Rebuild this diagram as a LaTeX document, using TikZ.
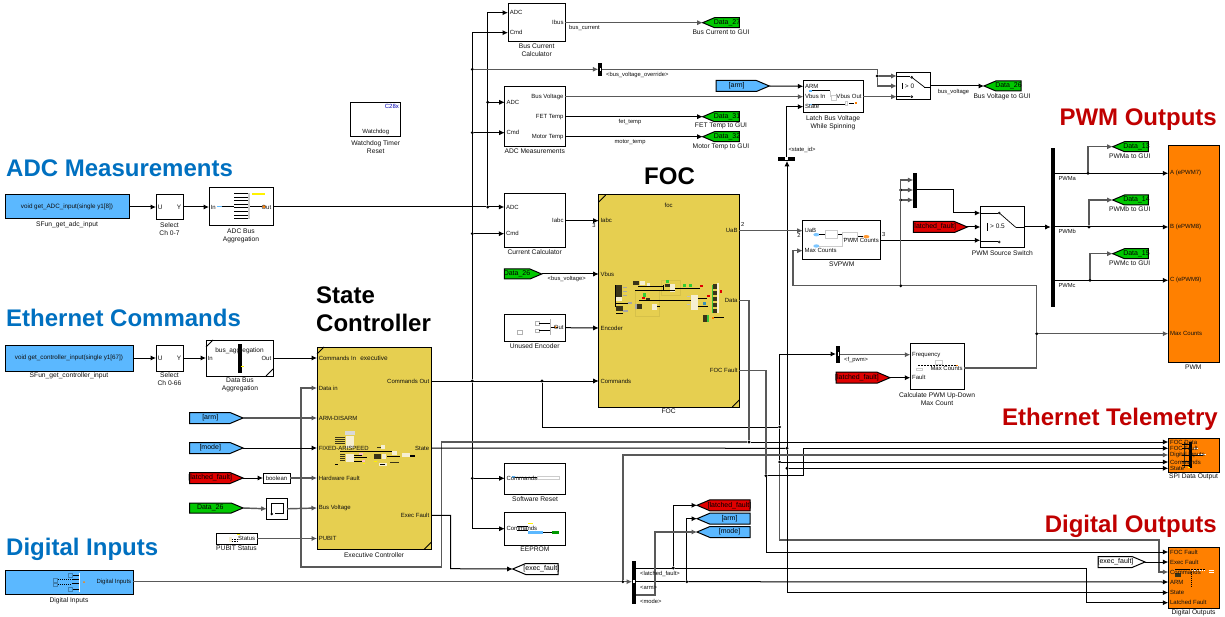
\documentclass[tikz,border=0pt]{standalone}
\usepackage{fontspec}
\setmainfont{Liberation Sans}
\usetikzlibrary{arrows.meta,shapes.symbols}
\definecolor{foccol}{HTML}{E6CF50}
\definecolor{sblue}{HTML}{5BB8FF}
\definecolor{sgreen}{HTML}{00C800}
\definecolor{sred}{HTML}{E00000}
\definecolor{sorange}{HTML}{FF8000}
\definecolor{tblue}{HTML}{0070C0}
\definecolor{tred}{HTML}{C00000}
\definecolor{dk}{HTML}{3A3418}
\definecolor{cream}{HTML}{F6EFD2}
\definecolor{txt}{HTML}{101010}
\tikzset{
 block/.style={draw=black,line width=1,fill=white,inner sep=0,outer sep=0},
 port/.style={font=\fontsize{6}{7}\selectfont,text=txt,inner sep=1.8pt,outer sep=0},
 capn/.style={font=\fontsize{6.7}{8}\selectfont,text=txt,align=center,inner sep=0},
 wlab/.style={font=\fontsize{5.8}{7}\selectfont,text=txt,inner sep=0},
 ttl/.style={font=\fontsize{24}{27}\selectfont\bfseries,inner sep=0,anchor=base west},
 ttr/.style={font=\fontsize{24}{27}\selectfont\bfseries,inner sep=0,anchor=base east,text=tred},
 w/.style={draw=black,line width=1},
 g/.style={draw=black!65,line width=1.45},
 ar/.style={-{Latex[length=5.5pt,width=5.2pt]}},
 jn/.style={circle,fill=black,inner sep=0,minimum size=3.2pt,outer sep=0},
 bar/.style={fill=black,draw=none,inner sep=0,outer sep=0},
 sgn/.style={signal,signal from=nowhere,signal pointer angle=46,draw=black,line width=1,inner sep=0,outer sep=0},
 sb/.style={fill=sblue,minimum height=11pt},
 sg/.style={fill=sgreen,minimum height=10pt},
 sr/.style={fill=sred,minimum height=11pt},
 sw/.style={fill=white,minimum height=11pt},
 stx/.style={font=\fontsize{7}{8}\selectfont,text=black,inner sep=0},
 zm/.style 2 args={shift={(#1,#2)},x=.33333pt,y=-.33333pt},
 tl/.style={draw=black,line width=.7},
 gl/.style={draw=black!20,line width=.5},
}
% block by its corners
\newcommand\blk[6][]{\node[block,#1,minimum width={(#5-#3)*1pt},minimum height={(#6-#4)*1pt}] (#2) at ({(#3+#5)/2},{(#4+#6)/2}) {};}
\newcommand\pL[4]{\node[port,anchor=west] (#2) at (#1.west|-0,#3) {#4};}
\newcommand\pR[4]{\node[port,anchor=east] (#2) at (#1.east|-0,#3) {#4};}
\newcommand\capt[4]{\node[capn,anchor=north] (#1-cap) at (#2,{#3-3.6}) {#4};}
\newcommand\sigR[6][sb]{\node[sgn,#1,signal to=east,anchor=west,minimum width={(#4-#3)*1pt}] (#2) at (#3,#5) {};\node[stx] (#2-t) at ({(#3+#4-12)/2},#5) {#6};}
\newcommand\sigL[6][sb]{\node[sgn,#1,signal to=west,anchor=east,minimum width={(#4-#3)*1pt}] (#2) at (#4,#5) {};\node[stx] (#2-t) at ({(#3+#4+12)/2},#5) {#6};}
\newcommand\jun[3]{\node[jn] (#1) at (#2,#3) {};}
\newcommand\rct[5]{\fill[#1] (#2,#3) rectangle (#4,#5);}
\newcommand\lnn[4]{\draw[tl] (#1,#2)--(#3,#4);}
\newcommand\cornr[1]{\draw[black,line width=.8] (#1.north west)+(0,7)--+(7,0);\draw[black,line width=.8] (#1.south east)+(-7,0)--+(0,-7);}
\begin{document}
\begin{tikzpicture}[x=1pt,y=-1pt]
\useasboundingbox (0,0) rectangle (1225,617);
% titles
\node[ttl,text=tblue] (t1) at (6,176.7) {ADC Measurements};
\node[ttl,text=tblue] (t2) at (6,326.7) {Ethernet Commands};
\node[ttl,text=tblue] (t3) at (6,555) {Digital Inputs};
\node[ttl] (t4) at (316,304) {State};
\node[ttl] (t5) at (316,331) {Controller};
\node[ttl] (t6) at (644,184.3) {FOC};
\node[ttr] (t7) at (1217,126) {PWM Outputs};
\node[ttr] (t8) at (1218,425) {Ethernet Telemetry};
\node[ttr] (t9) at (1217,532.3) {Digital Outputs};
% blocks
\blk[fill=sblue]{sfa}{5}{195}{129}{219}
\blk{sel1}{156}{194.5}{183}{220}
\blk{agga}{209}{188}{273}{226}
\blk[fill=sblue]{sfc}{5}{345}{133}{371}
\blk{sel2}{156}{345}{183}{371}
\blk{aggd}{206}{340}{273}{376}
\blk[fill=foccol]{ex}{317}{347}{431}{549.5}
\blk{wd}{350.7}{102.3}{400.7}{136.7}
\blk{bool}{263}{473}{290}{483}
\blk{mem}{266.7}{498.6}{287}{519}
\blk{pub}{216}{533}{257}{544}
\blk[fill=sblue]{di}{5}{570.7}{133}{594.7}
\blk{bc}{508}{4}{565.3}{41.7}
\blk{ad}{504.7}{86.7}{565.3}{146.7}
\blk{cc}{504.3}{193.7}{565.3}{247.3}
\blk{ue}{504.3}{314.3}{565.3}{341.3}
\blk[fill=foccol]{foc}{598.7}{195}{739.3}{407}
\blk{sr}{504.7}{463}{565.7}{494.3}
\blk{ee}{504.7}{512.7}{565.7}{545}
\blk{la}{803.3}{80.3}{863.3}{112.7}
\blk{swa}{896.7}{72.7}{930.7}{100}
\blk{sv}{802.7}{220.7}{880.7}{260}
\blk{swb}{980.3}{206.3}{1024.3}{248}
\blk{cal}{910.3}{343}{964.3}{389.3}
\blk[fill=sorange]{pwm}{1168.3}{145.3}{1219}{362.7}
\blk[fill=sorange]{spi}{1168.3}{438}{1219}{472}
\blk[fill=sorange]{dout}{1168.3}{547}{1219}{608.7}
\cornr{aggd}\cornr{ex}\cornr{foc}
% selector / mux bars
\blk[bar]{bvo}{598.3}{63.3}{602.3}{76}
\blk[bar]{sid}{777.7}{156.7}{795}{160.7}
\blk[bar]{mux}{913.3}{172.7}{917.3}{208.3}
\blk[bar]{dem}{1050.7}{147.7}{1055}{306.7}
\blk[bar]{fps}{836}{346}{840.3}{362.7}
\blk[bar]{bs}{632}{560.7}{636}{604}
\rct{white}{599.5}{68}{601}{71}
\rct{white}{837.5}{352}{839}{356}
\rct{white}{633}{580}{635}{583}
\rct{white}{785}{157.5}{788}{160}
% thumbnail details
\begin{scope}[zm={0}{150}]
 \foreach \yy in {131,142,152,163,173,184,195,205}{\lnn{703}{\yy}{745}{\yy}}
 \rct{black!20}{745}{128}{750}{208}
 \rct{yellow}{756}{130}{795}{136}
 \rct{sblue}{650}{167}{665}{172}
 \lnn{665}{170}{703}{170}\lnn{750}{170}{787}{170}
 \fill[orange] (792,170) circle (5);
 \rct{black}{714}{582}{726}{668}
 \rct{yellow}{724}{648}{732}{651}
\end{scope}
\begin{scope}[zm={0}{520}]
 \foreach \yy in {165,178,190,208}{\lnn{215}{\yy}{238}{\yy}}
 \draw[sblue!70!black,line width=.3] (203,160) rectangle (215,170) (158,175) rectangle (172,185) (158,189) rectangle (172,198) (203,202) rectangle (215,212);
 \draw[black,dash pattern=on 1pt off 1pt,line width=.6] (175,178)--(215,178) (175,192)--(215,192);
 \draw[white,line width=.5] (238,158)--(238,215);
 \fill[orange] (252,186) circle (3);
\end{scope}
\begin{scope}[zm={180}{340}]
 % executive thumbnail
 \rct{black!15}{495}{272}{525}{285}
 \rct{cream}{497}{288}{522}{325}
 \rct{cream}{497}{342}{522}{365}
 \rct{cream}{603}{315}{615}{328}
 \rct{cream}{605}{343}{618}{358}
 \rct{cream}{636}{333}{650}{345}
 \rct{cream}{665}{340}{690}{352}
 \rct{cream}{598}{370}{620}{377}
 \foreach \yy in {291,297,303,309}{\rct{dk}{466}{\yy}{495}{\yy+3}}
 \foreach \yy in {342,348,354,360}{\rct{dk}{480}{\yy}{495}{\yy+3}}
 \rct{black}{480}{332}{636}{335}
 \rct{dk}{583}{342}{603}{356}
 \rct{dk}{590}{320}{603}{324}
 \rct{black}{522}{345}{545}{347}\rct{black}{522}{352}{560}{354}\rct{black}{522}{362}{550}{364}
 \rct{black}{622}{348}{660}{351}\rct{dk}{630}{366}{658}{369}\rct{black}{690}{345}{705}{350}
 \rct{black}{466}{372}{474}{374}
 \rct{pink}{538}{340}{548}{345}\rct{pink}{545}{360}{556}{365}
 \rct{yellow}{550}{368}{556}{371}\rct{yellow}{582}{363}{590}{366}
 \rct{black}{600}{372}{616}{374}
 % PUBIT
 \rct{cream}{147}{590}{155}{606}
 \draw[black,dash pattern=on 1.5pt off 1pt,line width=.6] (155,597)--(172,597) (155,603)--(172,603);
 \rct{yellow}{170}{582}{180}{585}
 % memory icon
 \draw[black,line width=.9] (275,518)--(275,490)--(310,490)--(310,521)--(285,521);
 \fill[black] (275,522) circle (4);
 % software reset
 \draw[gl] (1072,408) rectangle (1138,418);
 \rct{sblue}{995}{409}{1005}{413}
 \lnn{1005}{413}{1072}{413}
 % eeprom
 \rct{yellow}{1045}{548}{1058}{552}
 \lnn{1010}{560}{1045}{560}\lnn{1010}{572}{1045}{572}
 \rct{sblue}{1045}{573}{1090}{581}
 \lnn{1090}{578}{1115}{578}
 \rct{green!60!black}{1115}{574}{1137}{581}
\end{scope}
\begin{scope}[zm={600}{270}]
 % FOC thumbnail
 \draw[foccol!93!black,line width=.4] (105,60) rectangle (178,140) (185,30) rectangle (240,75);
 \rct{dk}{45}{45}{67}{80}\rct{dk}{47}{108}{68}{122}\rct{dk}{100}{33}{118}{45}\rct{dk}{195}{42}{210}{52}
 \rct{dk}{112}{102}{127}{118}\rct{dk}{138}{85}{150}{92}
 \rct{cream}{47}{82}{67}{94}\rct{cream}{120}{33}{135}{45}\rct{cream}{210}{42}{225}{65}\rct{cream}{155}{102}{170}{120}
 \rct{cream}{273}{75}{295}{120}\rct{cream}{140}{40}{150}{52}
 \rct{black}{105}{59}{225}{62}\rct{black}{118}{90}{273}{93}\rct{black}{115}{47}{190}{50}\rct{black}{190}{45}{193}{62}
 \rct{black}{44}{45}{47}{110}\rct{black}{45}{100}{85}{103}\rct{black}{48}{130}{68}{133}\rct{black}{225}{53}{300}{56}
 \rct{black}{170}{108}{180}{111}\rct{black}{295}{85}{322}{88}\rct{black}{295}{108}{325}{111}
 \rct{black!35}{70}{50}{80}{54}\rct{black!35}{70}{62}{80}{66}\rct{black!35}{70}{74}{80}{78}\rct{black!35}{85}{97}{95}{101}\rct{black!35}{70}{120}{85}{125}
 \rct{black!35}{105}{102}{112}{118}\rct{black!25}{260}{78}{270}{82}\rct{black!25}{260}{102}{270}{106}
 \rct{green!60!gray}{198}{30}{206}{38}\rct{green!60!gray}{128}{68}{137}{80}\rct{green!60!gray}{250}{42}{258}{50}\rct{green!60!gray}{268}{42}{276}{50}
 \rct{dk}{340}{42}{352}{58}\rct{dk}{340}{62}{352}{76}\rct{dk}{340}{80}{352}{94}\rct{dk}{340}{98}{352}{112}\rct{dk}{340}{116}{352}{130}
 \rct{cream}{352}{40}{357}{130}\rct{green!55!gray}{335}{45}{340}{130}
 \rct{dk}{310}{135}{322}{155}\rct{green!55!gray}{322}{135}{326}{155}
 \rct{sred}{360}{60}{366}{70}\rct{sred}{320}{75}{330}{82}\rct{sred}{300}{45}{309}{51}\rct{sred}{125}{82}{135}{88}
 \rct{cyan!70!black}{308}{95}{318}{105}
 \rct{orange}{336}{140}{342}{148}\rct{black}{342}{141}{372}{144}
\end{scope}
\begin{scope}[zm={490}{180}]
 \draw[black!30,line width=.5] (135,425) rectangle (147,435) (135,447) rectangle (147,457) (82,452) rectangle (97,462);
 \lnn{147}{430}{180}{430}\lnn{147}{452}{180}{452}
 \rct{black!30}{180}{418}{184}{465}
 \lnn{184}{441}{205}{441}
 \fill[orange] (197,441) circle (3);
\end{scope}
\begin{scope}[zm={760}{0}]
 \lnn{150}{272}{210}{272}\lnn{150}{313}{255}{313}\lnn{268}{310}{282}{310}
 \draw[gl] (210,272)--(210,290) (215,285) rectangle (230,300) (255,305) rectangle (262,315);
 \rct{sblue}{148}{271}{156}{275}\rct{sblue}{148}{311}{156}{315}
 \rct{orange}{284}{307}{290}{311}
\end{scope}
\begin{scope}[zm={780}{140}]
 \fill[sblue!80] (109,284) ellipse (9 and 5);\fill[sblue!80] (109,318) ellipse (9 and 5);
 \lnn{118}{284}{135}{284}\lnn{172}{284}{187}{284}\lnn{233}{290}{250}{290}
 \draw[gl] (135,272) rectangle (172,296) (187,277) rectangle (233,296) (118,318)--(187,318)--(187,296);
 \fill[orange!80] (259,290) ellipse (9 and 5);
 % calc thumbnail
 \draw[gl] (465,660) rectangle (487,672) (408,686) rectangle (428,692);
 \draw[black,dash pattern=on 2pt off 1pt,line width=.6] (415,677)--(530,677);
 \rct{orange}{528}{675}{534}{679}
\end{scope}
\begin{scope}[zm={1060}{420}]
 % SPI thumbnail
 \rct{black}{387}{65}{395}{145}\rct{dk}{372}{65}{376}{145}
 \foreach \yy in {72,85,105,125,137}{\lnn{365}{\yy}{387}{\yy}}
 \lnn{395}{105}{430}{105}
 \rct{white}{415}{103}{438}{106}\rct{yellow}{384}{141}{390}{144}\rct{white}{402}{85}{415}{87}
 % DO thumbnail
 \rct{black}{345}{447}{385}{451}\rct{dk}{345}{460}{362}{470}
 \draw[black,dash pattern=on 2pt off 1pt,line width=.7] (385,449)--(435,449);
 \draw[white,dash pattern=on 1.5pt off 1pt,line width=.7] (395,451)--(435,451);
 \draw[black,dash pattern=on 1pt off 1pt,line width=.7] (395,455)--(395,500);
 \rct{white}{447}{450}{462}{453}\rct{white}{447}{456}{462}{459}
\end{scope}
% SFun text and block ports
\node[port,font=\fontsize{6.3}{7}\selectfont] (sfa-t) at (sfa) {void get\_ADC\_input(single y1[8])};
\node[port,font=\fontsize{6.3}{7}\selectfont] (sfc-t) at (sfc) {void get\_controller\_input(single y1[67])};
\pL{sel1}{s1u}{207}{\fontsize{6.5}{7}\selectfont U}\pR{sel1}{s1y}{207}{\fontsize{6.5}{7}\selectfont Y}
\pL{sel2}{s2u}{358}{\fontsize{6.5}{7}\selectfont U}\pR{sel2}{s2y}{358}{\fontsize{6.5}{7}\selectfont Y}
\pL{agga}{aga-in}{207}{In}\pR{agga}{aga-out}{207}{Out}
\pL{aggd}{agd-in}{358}{In}\pR{aggd}{agd-out}{358}{Out}
\node[port,font=\fontsize{6.5}{7}\selectfont] (agd-t) at (239.5,351) {bus\_aggregation};
\pL{ex}{ex-ci}{358}{Commands In}\pL{ex}{ex-di}{388}{Data in}\pL{ex}{ex-arm}{418}{ARM-DISARM}
\pL{ex}{ex-fix}{448}{FIXED-ARISPEED}\pL{ex}{ex-hf}{478}{Hardware Fault}\pL{ex}{ex-bv}{508}{Bus Voltage}\pL{ex}{ex-pub}{538}{PUBIT}
\pR{ex}{ex-co}{381}{Commands Out}\pR{ex}{ex-st}{448}{State}\pR{ex}{ex-ef}{515.3}{Exec Fault}
\node[port,font=\fontsize{6.5}{7}\selectfont] (ex-n) at (374,358) {executive};
\node[port,text=blue!70!black,anchor=north east] (wd-c) at (wd.north east) {C28x};
\node[port,anchor=south] (wd-t) at (wd.south) {Watchdog};
\node[port,anchor=center,font=\fontsize{6}{7}\selectfont] (bool-t) at (bool) {boolean};
\pR{pub}{pub-o}{538.5}{Status}
\pR{di}{di-o}{581.7}{Digital Inputs}
\pL{bc}{bc-adc}{12.7}{ADC}\pL{bc}{bc-cmd}{32.7}{Cmd}\pR{bc}{bc-ib}{22.7}{Ibus}
\pL{ad}{ad-adc}{102.3}{ADC}\pL{ad}{ad-cmd}{132.7}{Cmd}\pR{ad}{ad-bv}{96.7}{Bus Voltage}\pR{ad}{ad-ft}{116.7}{FET Temp}\pR{ad}{ad-mt}{136.7}{Motor Temp}
\pL{cc}{cc-adc}{207}{ADC}\pL{cc}{cc-cmd}{233.7}{Cmd}\pR{cc}{cc-ia}{220.7}{Iabc}
\pR{ue}{ue-o}{327.7}{Out}
\pL{foc}{f-ia}{220.7}{Iabc}\pL{foc}{f-vb}{274}{Vbus}\pL{foc}{f-en}{328}{Encoder}\pL{foc}{f-cm}{381}{Commands}
\pR{foc}{f-ua}{230.7}{UaB}\pR{foc}{f-da}{300.7}{Data}\pR{foc}{f-fa}{370.7}{FOC Fault}
\node[port] (f-n) at (668.7,205.7) {foc};
\pL{sr}{sr-c}{478.3}{Commands}\pL{ee}{ee-c}{528.7}{Commands}
\pL{la}{la-ar}{86.3}{ARM}\pL{la}{la-vi}{96.7}{Vbus In}\pL{la}{la-st}{106.7}{State}\pR{la}{la-vo}{96.7}{Vbus Out}
\pL{sv}{sv-ua}{230}{UaB}\pL{sv}{sv-mc}{250.7}{Max Counts}\pR{sv}{sv-pc}{240.3}{PWM Counts}
\pL{cal}{cal-f}{354.7}{Frequency}\pL{cal}{cal-fa}{377.7}{Fault}\pR{cal}{cal-mc}{368}{Max Counts}
\pL{pwm}{pw-a}{173.3}{A (ePWM7)}\pL{pwm}{pw-b}{227}{B (ePWM8)}\pL{pwm}{pw-c}{280.3}{C (ePWM9)}\pL{pwm}{pw-m}{333.7}{Max Counts}
\pL{spi}{sp-d}{442}{FOC Data}\pL{spi}{sp-f}{448.3}{FOC Fault}\pL{spi}{sp-i}{455}{Digital Inputs}\pL{spi}{sp-c}{462}{Commands}\pL{spi}{sp-s}{468.3}{State}
\pL{dout}{do-f}{552}{FOC Fault}\pL{dout}{do-e}{562}{Exec Fault}\pL{dout}{do-c}{572}{Commands}\pL{dout}{do-a}{582}{ARM}\pL{dout}{do-s}{592.6}{State}\pL{dout}{do-l}{602.7}{Latched Fault}
% switches
\lnn{896.7}{76}{910}{76}\lnn{896.7}{96.7}{910}{96.7}\lnn{911.7}{77.3}{924.3}{87}\lnn{924.3}{87}{930.7}{87}
\draw[black,line width=.6] (911.7,77.3) circle (1);\draw[black,line width=.6] (911.7,96.7) circle (1);
\draw[black,line width=.8] (902,83)--(902,89.5);
\node[port,inner sep=0,font=\fontsize{6.5}{7}\selectfont] (swa-t) at (909.5,86.7) {> 0};
\lnn{980.3}{213}{998}{213}\lnn{980.3}{241}{998}{241}\lnn{999.3}{213}{1015.7}{227.3}\lnn{1015.7}{227.3}{1024.3}{227.3}
\draw[black,line width=.6] (999.3,213) circle (1);\draw[black,line width=.6] (999.3,242) circle (1);
\draw[black,line width=.8] (987.3,223)--(987.3,231.5);
\node[port,inner sep=0,font=\fontsize{6.5}{7}\selectfont] (swb-t) at (997.5,226.7) {> 0.5};
% gotos / froms
\sigR{garm}{189.5}{243}{418}{[arm]}
\sigR{gmode}{189.5}{243}{448}{[mode]}
\sigR[sr]{glat}{189.5}{243}{478}{[latched\_fault]}
\sigR[sg]{gd26}{189.5}{243}{508}{Data\_26}
\sigR[sg]{gd26b}{504.3}{541.7}{274}{Data\_26}
\sigR{garm2}{716}{769.3}{86}{[arm]}
\sigR[sr]{glat2}{913.3}{967.3}{227}{[latched\_fault]}
\sigR[sr]{glat3}{836}{890}{377.7}{[latched\_fault]}
\sigR[sw]{gex2}{1098}{1145}{562}{[exec\_fault]}
\sigL[sw]{gex}{512.7}{558}{569}{[exec\_fault]}
\sigL[sg]{d27}{702.7}{739.3}{22.7}{Data\_27}
\sigL[sg]{d31}{702.7}{739.3}{116.7}{Data\_31}
\sigL[sg]{d32}{702.7}{739.3}{136.7}{Data\_32}
\sigL[sg]{d26}{984}{1021}{86}{Data\_26}
\sigL[sg]{d13}{1112.7}{1148.3}{146.7}{Data\_13}
\sigL[sg]{d14}{1112.7}{1148.3}{200}{Data\_14}
\sigL[sg]{d15}{1112.7}{1148.3}{253.7}{Data\_15}
\sigL[sr]{lat4}{697}{750}{505.3}{[latched\_fault]}
\sigL{arm4}{697}{750}{518.7}{[arm]}
\sigL{mod4}{697}{750}{532}{[mode]}
% junctions
\jun{jA1}{487.7}{102.3}\jun{jA2}{487.7}{207}
\jun{jC0}{472.3}{381}\jun{jC1}{472.3}{69.3}\jun{jC2}{472.3}{132.7}\jun{jC3}{472.3}{233.7}\jun{jC4}{472.3}{478.3}
\jun{jC5}{542}{381}\jun{jD1}{779.6}{427}\jun{jD2}{779.6}{462}
\jun{jF}{749}{442}\jun{jE}{787}{448.3}\jun{jE2}{787}{468.3}\jun{jG}{766}{475.7}
\jun{jH}{622.8}{581.7}\jun{jL1}{673.2}{568}\jun{jL2}{686.8}{581.7}
\jun{jS}{877.3}{76}\jun{jV}{900.7}{285.7}\jun{jW1}{900.7}{190}\jun{jW2}{900.7}{200}\jun{jM}{1036.7}{333.7}
\jun{jP1}{1088}{173.3}\jun{jP2}{1089}{227}\jun{jP3}{1090}{280.3}
% connectors
\draw[w,ar] (sfa.east|-0,207)--(s1u.west);
\draw[w,ar] (s1y.east)--(aga-in.west);
\draw[w,ar] (sfc.east|-0,358)--(s2u.west);
\draw[w,ar] (s2y.east)--(agd-in.west);
\draw[w,ar] (agd-out.east)--(ex-ci.west);
\draw[w] (aga-out.east)--(jA2);
\draw[w,ar] (jA2)--(cc-adc.west);
\draw[w,ar] (jA2)|-(bc-adc.west);
\draw[w,ar] (jA1)--(ad-adc.west);
\draw[w,ar] (jC0)|-(bc-cmd.west);
\draw[w,ar] (jC0)|-(ee-c.west);
\draw[w,ar] (jC2)--(ad-cmd.west);
\draw[w,ar] (jC3)--(cc-cmd.west);
\draw[w,ar] (jC4)--(sr-c.west);
\draw[g,ar] (jC1)--(bvo.west|-jC1);
\draw[w,ar] (ex-co.east)--(f-cm.west);
\draw[w] (jC5)|-(jD1);
\draw[w,ar] (jD1)|-(fps.west|-0,354);
\draw[w] (jD1)--(jD2);
\draw[w,ar] (jD2)--(sp-c.west);
\draw[g,ar] (jD2)|-(1159,540)--(1159,572)--(do-c.west);
\draw[g] (f-da.east)-|(jF);
\draw[w,ar] (jF)--(sp-d.west);
\draw[g,ar] (jF)--(441.6,442)--(441.6,567)--(301,567)|-(ex-di.west);
\draw[w] (ex-st.east)--(jE);
\draw[w,ar] (jE2)--(sp-s.west);
\draw[w,ar] (jE)--(787,160.9);
\draw[w,ar] (jE)|-(do-s.west);
\draw[w,ar] (sid.north)|-(la-st.west);
\draw[g] (f-fa.east)-|(jG);
\draw[w,ar] (jG)|-(do-f.west);
\draw[w,ar] (jG)--(803,475.7)|-(sp-f.west);
\draw[w,ar] (ex-ef.east)-|(450.7,568.7)--(gex.west);
\draw[g] (di-o.east)--(jH);
\draw[g,ar] (jH)--(bs.west|-jH);
\draw[g,ar] (jH)|-(sp-i.west);
\draw[w] (bs.east|-jL1)--(jL1);
\draw[w,ar] (jL1)|-(lat4.west);
\draw[w,ar] (jL1)-|(1086,590)|-(do-l.west);
\draw[w] (bs.east|-jL2)--(jL2);
\draw[w,ar] (jL2)|-(arm4.west);
\draw[w,ar] (jL2)--(do-a.west);
\draw[g,ar] (bs.east|-0,595)-|(654.8,560)|-(mod4.west);
\draw[g,ar] (garm.east)--(ex-arm.west);
\draw[w,ar] (gmode.east)--(ex-fix.west);
\draw[w,ar] (glat.east)--(bool.west);
\draw[g,ar] (bool.east)--(ex-hf.west);
\draw[g,ar] (gd26.east)--(mem.west);
\draw[g,ar] (mem.east)--(ex-bv.west);
\draw[g,ar] (pub-o.east)--(ex-pub.west|-pub-o);
\draw[g,ar] (bc-ib.east)--(d27.west);
\draw[g,ar] (ad-bv.east)--(la-vi.west);
\draw[w,ar] (ad-ft.east)--(d31.west);
\draw[w,ar] (ad-mt.east)--(d32.west);
\draw[w,ar] (cc-ia.east)--(f-ia.west);
\draw[w,ar] (gd26b.east)--(f-vb.west);
\draw[w,ar] (ue-o.east)--(f-en.west);
\draw[w,ar] (garm2.east)--(la-ar.west);
\draw[g] (bvo.east|-jC1)-|(jS);
\draw[g,ar] (jS)--(swa.west|-jS);
\draw[g,ar] (jS)|-(swa.west|-d26);
\draw[g,ar] (la-vo.east)--(swa.west|-la-vo);
\draw[w,ar] (swa.east|-d26)--(d26.west);
\draw[g,ar] (f-ua.east)--(sv-ua.west|-f-ua);
\draw[w,ar] (sv-pc.east)--(swb.west|-sv-pc);
\draw[w,ar] (glat2.east)--(swb.west|-glat2);
\draw[w,ar] (mux.east|-0,190)--(953,190)|-(swb.west|-0,213);
\draw[w,ar] (swb.east|-glat2)--(dem.west|-glat2);
\draw[g,ar] (jW1)--(mux.west|-jW1);
\draw[g,ar] (jW2)--(mux.west|-jW2);
\draw[g,ar] (jV)|-(mux.west|-0,180);
\draw[g] (cal-mc.east)-|(jM);
\draw[g,ar] (jM)--(pw-m.west);
\draw[g] (jM)|-(jV);
\draw[g,ar] (jV)-|(793,268)|-(sv-mc.west);
\draw[g,ar] (fps.east|-0,354.7)--(cal-f.west);
\draw[w,ar] (glat3.east)--(cal-fa.west);
\draw[w,ar] (gex2.east)--(do-e.west);
\draw[w,ar] (dem.east|-jP1)--(pw-a.west);
\draw[w,ar] (dem.east|-jP2)--(pw-b.west);
\draw[w,ar] (dem.east|-jP3)--(pw-c.west);
\draw[g,ar] (jP1)|-(d13.west);
\draw[g,ar] (jP2)|-(d14.west);
\draw[g,ar] (jP3)|-(d15.west);
% wire labels
\node[wlab,anchor=west] (l1) at (569,28) {bus\_current};
\node[wlab] (l2) at (630,122) {fet\_temp};
\node[wlab] (l3) at (630,142) {motor\_temp};
\node[wlab,anchor=west] (l4) at (606,75) {<bus\_voltage\_override>};
\node[wlab,anchor=west] (l5) at (788.3,150) {<state\_id>};
\node[wlab,anchor=west] (l6) at (937.7,91.7) {bus\_voltage};
\node[wlab] (l7) at (566.7,279) {<bus\_voltage>};
\node[wlab,anchor=west] (l8) at (844,360) {<f\_pwm>};
\node[wlab,anchor=west] (l9) at (1058.3,178.7) {PWMa};
\node[wlab,anchor=west] (l10) at (1058.3,231.7) {PWMb};
\node[wlab,anchor=west] (l11) at (1058.3,285.7) {PWMc};
\node[wlab,anchor=west] (l12) at (640,574) {<latched\_fault>};
\node[wlab,anchor=west] (l13) at (640,588) {<arm>};
\node[wlab,anchor=west] (l14) at (640,601) {<mode>};
\node[wlab] (l15) at (594,226) {3};
\node[wlab] (l16) at (742.7,224.7) {2};
\node[wlab] (l17) at (799,235.7) {2};
\node[wlab] (l18) at (883.7,234.7) {3};
% captions
\capt{sfa}{67}{225}{SFun\_get\_adc\_input}
\capt{sel1}{169.5}{226}{Select\\Ch 0-7}
\capt{agga}{241}{232}{ADC Bus\\Aggregation}
\capt{sfc}{69}{376}{SFun\_get\_controller\_input}
\capt{sel2}{169.5}{376}{Select\\Ch 0-66}
\capt{aggd}{240}{381.5}{Data Bus\\Aggregation}
\capt{wd}{375.7}{144}{Watchdog Timer\\Reset}
\capt{pub}{236.5}{549.5}{PUBIT Status}
\capt{ex}{374}{556}{Executive Controller}
\capt{di}{69}{600.7}{Digital Inputs}
\capt{bc}{536.7}{47.7}{Bus Current\\Calculator}
\capt{ad}{534.7}{152.7}{ADC Measurements}
\capt{cc}{534.7}{252.7}{Current Calculator}
\capt{ue}{534.7}{346.7}{Unused Encoder}
\capt{foc}{668.7}{412.7}{FOC}
\capt{sr}{535}{499.7}{Software Reset}
\capt{ee}{535}{550.7}{EEPROM}
\capt{d27}{721}{33.7}{Bus Current to GUI}
\capt{d31}{721}{126.7}{FET Temp to GUI}
\capt{d32}{721}{147.7}{Motor Temp to GUI}
\capt{la}{833}{118.7}{Latch Bus Voltage\\While Spinning}
\capt{d26}{1002}{96.7}{Bus Voltage to GUI}
\capt{sv}{841.7}{265.7}{SVPWM}
\capt{swb}{1002.3}{253.7}{PWM Source Switch}
\capt{cal}{937}{395.7}{Calculate PWM Up-Down\\Max Count}
\capt{d13}{1129.7}{157.3}{PWMa to GUI}
\capt{d14}{1129.7}{210.3}{PWMb to GUI}
\capt{d15}{1129.7}{264.3}{PWMc to GUI}
\capt{pwm}{1193.3}{368.3}{PWM}
\capt{spi}{1193.5}{477.5}{SPI Data Output}
\capt{dout}{1193.5}{612.7}{Digital Outputs}
\end{tikzpicture}
\end{document}
